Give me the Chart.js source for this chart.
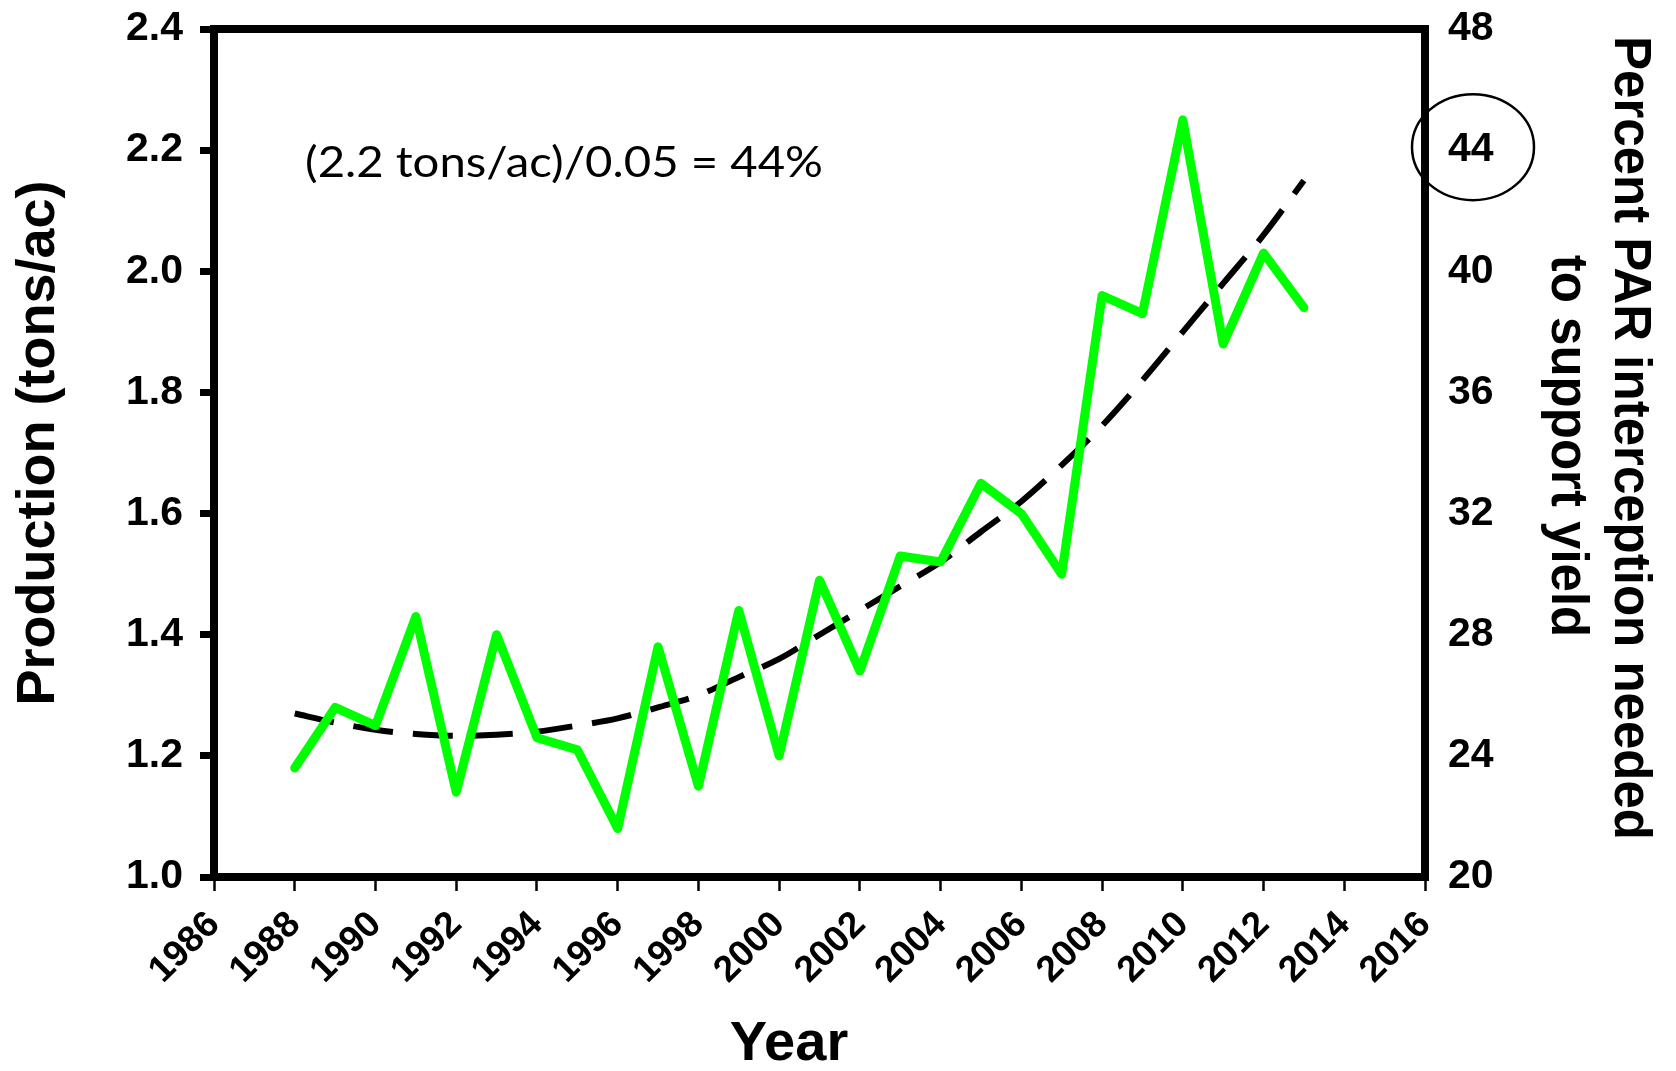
<!DOCTYPE html>
<html>
<head>
<meta charset="utf-8">
<script src="https://cdn.jsdelivr.net/npm/chart.js@4.4.1/dist/chart.umd.min.js"></script>
<style>
  html, body { margin: 0; padding: 0; background: #ffffff; }
  canvas { display: block; }
</style>
</head>
<body>
<canvas id="chart" width="1676" height="1071"></canvas>
<script>
// Annual production and its fitted trend
const years = [1988, 1989, 1990, 1991, 1992, 1993, 1994, 1995, 1996, 1997, 1998, 1999, 2000,
               2001, 2002, 2003, 2004, 2005, 2006, 2007, 2008, 2009, 2010, 2011, 2012, 2013];
const production = [1.18, 1.28, 1.25, 1.43, 1.14, 1.40, 1.23, 1.21, 1.08, 1.38, 1.15, 1.44, 1.20,
                    1.49, 1.34, 1.53, 1.52, 1.65, 1.60, 1.50, 1.96, 1.93, 2.25, 1.88, 2.03, 1.94];
const trend = [1.270, 1.255, 1.243, 1.236, 1.233, 1.235, 1.240, 1.250, 1.262, 1.280, 1.300, 1.330, 1.360,
               1.400, 1.440, 1.480, 1.520, 1.570, 1.620, 1.680, 1.745, 1.820, 1.900, 1.980, 2.060, 2.150];

// Axis ranges
const yearRange = [1986, 2016, 2];
const productionRange = [1.0, 2.4, 0.2];
const percentRange = [20, 48, 4];

// Text
const xTitle = 'Year';
const yTitle = 'Production (tons/ac)';
const y1Title = ['Percent PAR interception needed', 'to support yield'];
const note = '(2.2 tons/ac)/0.05 = 44%';
const circledPercent = 44;

Chart.defaults.font.family = "'Liberation Sans', Arial, sans-serif";
Chart.defaults.color = '#000';

const productionPoints = years.map((y, i) => ({ x: y, y: production[i] }));
const trendPoints = years.map((y, i) => ({ x: y, y: trend[i] }));

const framePlugin = {
  id: 'frame',
  afterDatasetsDraw(chart) {
    const { ctx, chartArea: a } = chart;
    ctx.save();
    ctx.strokeStyle = '#000';
    ctx.lineWidth = 8;
    ctx.lineJoin = 'miter';
    ctx.strokeRect(a.left, a.top, a.right - a.left, a.bottom - a.top);
    ctx.restore();
  }
};

const textPlugin = {
  id: 'texts',
  afterDraw(chart) {
    const { ctx, chartArea: a, scales } = chart;
    ctx.save();
    ctx.fillStyle = '#000';

    // annotation inside the plot
    ctx.font = "42px Lato, 'Open Sans', sans-serif";
    ctx.textAlign = 'left';
    ctx.textBaseline = 'alphabetic';
    const w = ctx.measureText(note).width;
    ctx.save();
    ctx.translate(305, 177);
    ctx.scale(518 / w, 1);
    ctx.fillText(note, 0, 0);
    ctx.restore();

    // x title
    ctx.font = "bold 56px 'Liberation Sans', Arial, sans-serif";
    ctx.textAlign = 'center';
    ctx.fillText(xTitle, 789, 1060);

    // left title
    ctx.save();
    ctx.translate(54, 443);
    ctx.rotate(-Math.PI / 2);
    ctx.font = "bold 54px 'Liberation Sans', Arial, sans-serif";
    ctx.textAlign = 'center';
    ctx.fillText(yTitle, 0, 0);
    ctx.restore();

    // right title, two lines read top to bottom
    ctx.font = "bold 51px 'Liberation Sans', Arial, sans-serif";
    ctx.textAlign = 'center';
    ctx.save();
    ctx.translate(1615, 438);
    ctx.rotate(Math.PI / 2);
    ctx.fillText(y1Title[0], 0, 0);
    ctx.restore();
    ctx.save();
    ctx.translate(1552, 446);
    ctx.rotate(Math.PI / 2);
    ctx.fillText(y1Title[1], 0, 0);
    ctx.restore();

    // ellipse round the highlighted right-axis value
    const cy = scales.y1.getPixelForValue(circledPercent) - 3;
    ctx.beginPath();
    ctx.lineWidth = 2.5;
    ctx.strokeStyle = '#000';
    ctx.ellipse(a.right + 48, cy, 61, 53, 0, 0, Math.PI * 2);
    ctx.stroke();

    ctx.restore();
  }
};

// keep the plot box fixed: the axes do not push it inwards for label overhang
function noVerticalOverhang(s) { s.paddingTop = 0; s.paddingBottom = 0; }
function noHorizontalOverhang(s) { s.paddingLeft = 0; s.paddingRight = 0; }

new Chart(document.getElementById('chart'), {
  type: 'line',
  data: {
    datasets: [
      {
        label: 'Production',
        data: productionPoints,
        borderColor: '#00ff00',
        borderWidth: 9,
        borderJoinStyle: 'round',
        borderCapStyle: 'round',
        pointRadius: 0,
        tension: 0,
        order: 0,
        yAxisID: 'y'
      },
      {
        label: 'Trend',
        data: trendPoints,
        borderColor: '#000',
        borderWidth: 6,
        borderDash: [40, 20],
        pointRadius: 0,
        cubicInterpolationMode: 'monotone',
        order: 1,
        yAxisID: 'y'
      }
    ]
  },
  options: {
    responsive: false,
    devicePixelRatio: 1,
    animation: false,
    layout: { padding: { top: 29, left: 0, right: 0, bottom: 0 } },
    plugins: { legend: { display: false }, tooltip: { enabled: false } },
    scales: {
      x: {
        type: 'linear',
        position: 'bottom',
        min: yearRange[0],
        max: yearRange[1],
        afterFit(s) { s.height = 194; noHorizontalOverhang(s); },
        border: { display: false },
        grid: { drawOnChartArea: false, drawTicks: true, tickLength: 14, tickWidth: 2.5, tickColor: '#000' },
        ticks: {
          stepSize: yearRange[2],
          autoSkip: false,
          maxRotation: 45,
          minRotation: 45,
          padding: 12,
          font: { size: 37, weight: 'bold' },
          callback: v => String(v)
        }
      },
      y: {
        type: 'linear',
        position: 'left',
        min: productionRange[0],
        max: productionRange[1],
        afterFit(s) { s.width = 214; noVerticalOverhang(s); },
        border: { display: false },
        grid: { drawOnChartArea: false, drawTicks: true, tickLength: 14, tickWidth: 7, tickColor: '#000' },
        ticks: {
          stepSize: productionRange[2],
          padding: 17,
          font: { size: 41, weight: 'bold' },
          callback: v => v.toFixed(1)
        }
      },
      y1: {
        type: 'linear',
        position: 'right',
        min: percentRange[0],
        max: percentRange[1],
        afterFit(s) { s.width = 251; noVerticalOverhang(s); },
        border: { display: false },
        grid: { display: false, drawOnChartArea: false },
        ticks: {
          stepSize: percentRange[2],
          padding: 15,
          font: { size: 41, weight: 'bold' },
          callback: v => String(v)
        }
      }
    }
  },
  plugins: [framePlugin, textPlugin]
});
</script>
</body>
</html>
